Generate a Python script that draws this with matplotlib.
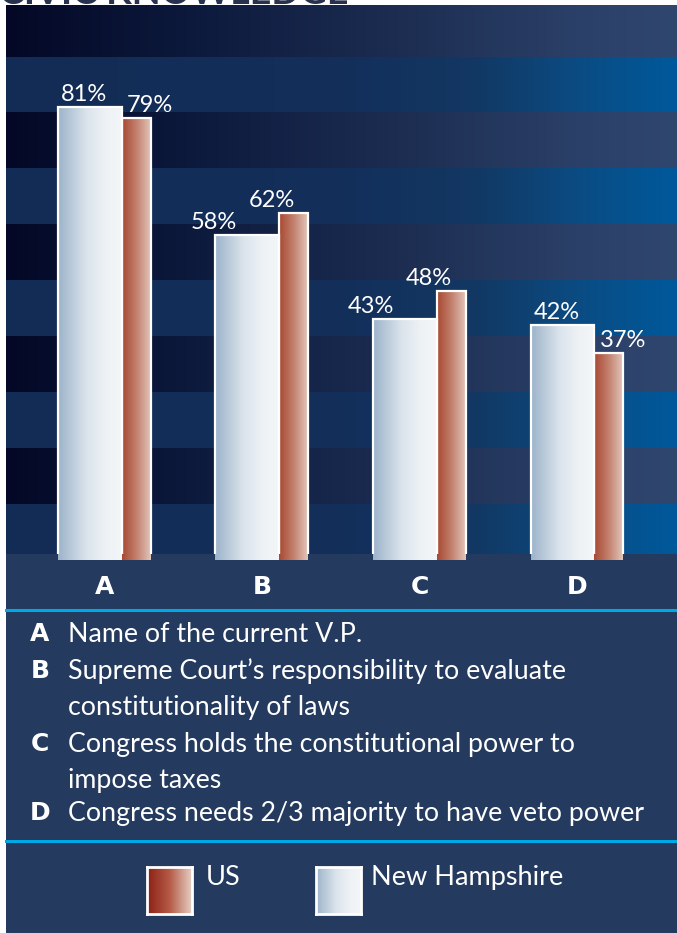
import numpy as np
import matplotlib
matplotlib.use("Agg")
import matplotlib.pyplot as plt
from matplotlib.colors import to_rgb
from matplotlib.patches import Rectangle
from matplotlib.lines import Line2D

# ---------------- data ----------------
categories = ["A", "B", "C", "D"]
nh_values = [81, 58, 43, 42]
us_values = [79, 62, 48, 37]
descriptions = [
    ("A", ["Name of the current V.P."]),
    ("B", ["Supreme Court\u2019s responsibility to evaluate", "constitutionality of laws"]),
    ("C", ["Congress holds the constitutional power to", "impose taxes"]),
    ("D", ["Congress needs 2/3 majority to have veto power"]),
]
legend_labels = ["US", "New Hampshire"]
title_text = "CIVIC KNOWLEDGE"

# ---------------- styling ----------------
FONT = ["Lato", "DejaVu Sans"]
BOLDFONT = ["DejaVu Sans"]
plt.rcParams["font.family"] = FONT
W, H = 677, 933
PANEL = "#243a5e"
CYAN = "#00a9e6"

def fx(px):
    return px / W

def fy(py):
    return 1 - py / H

def gradient(stops, n=400):
    pos = np.array([s[0] for s in stops])
    cols = np.array([to_rgb(s[1]) for s in stops])
    t = np.linspace(0, 1, n)
    out = np.stack([np.interp(t, pos, cols[:, k]) for k in range(3)], axis=-1)
    return out[None, :, :]

nh_grad = gradient([(0, "#9cb3ca"), (0.45, "#dbe4ec"), (0.75, "#eef2f5"), (1, "#f3f6f8")])
us_grad = gradient([(0, "#a84833"), (0.5, "#c2806d"), (1, "#e3c6bb")])
us_leg_grad = gradient([(0, "#8c2016"), (0.5, "#b55a46"), (1, "#e6cfc5")])
dark_row = gradient([(0, "#040826"), (0.3, "#0d1b3e"), (0.6, "#1d2e52"), (0.85, "#2b4068"), (1, "#2f466f")], 671)[0]
blue_row = gradient([(0, "#122c55"), (0.5, "#122f5a"), (0.7, "#123863"), (0.85, "#0b4b82"), (1, "#00599b")], 671)[0]

fig = plt.figure(figsize=(W / 100, H / 100), dpi=100)
fig.patch.set_facecolor("white")

# title (cut off at top, as in the original)
fig.text(fx(-1), fy(4), title_text, fontsize=27, fontweight="bold", color="#28324f",
         ha="left", va="baseline")

# bottom panel
fig.add_artist(Rectangle((fx(6), 0), 1 - fx(6), fy(554), transform=fig.transFigure,
                         facecolor=PANEL, edgecolor="none", zorder=0))

# ---------------- chart axes ----------------
ax = fig.add_axes([fx(6), fy(554), fx(671), 549 / H])
XL = (-0.625, 3.635)
YL = (1.0, 99.2)

stripes = np.stack([blue_row if i % 2 == 0 else dark_row for i in range(10)], axis=0)
ax.imshow(stripes, extent=(XL[0], XL[1], 0, 100), origin="lower", aspect="auto",
          interpolation="nearest", zorder=0)

x = np.arange(len(categories))
nh_off, nh_w = -0.092, 0.406
us_off, us_w = 0.203, 0.184

nh_bars = ax.bar(x + nh_off, nh_values, nh_w, facecolor="none", edgecolor="white",
                 linewidth=1.6, zorder=3)
us_bars = ax.bar(x + us_off, us_values, us_w, facecolor="none", edgecolor="white",
                 linewidth=1.6, zorder=3)

for bars, g in ((nh_bars, nh_grad), (us_bars, us_grad)):
    for b in bars:
        x0 = b.get_x()
        im = ax.imshow(g, extent=(x0, x0 + b.get_width(), 0, b.get_height()),
                       aspect="auto", interpolation="bilinear", zorder=2)
        im.set_clip_path(b)

PT = 0.72  # points per pixel at 100 dpi
lab_kw = dict(textcoords="offset points", color="white", fontsize=17, va="bottom", zorder=5)
for i in range(len(categories)):
    nb, ub = nh_bars[i], us_bars[i]
    nv, uv = nh_values[i], us_values[i]
    # New Hampshire label
    if nv >= uv:
        ax.annotate(f"{nv}%", (nb.get_x(), nv), xytext=(3 * PT, 2 * PT), ha="left", **lab_kw)
    else:
        ax.annotate(f"{nv}%", (nb.get_x(), nv), xytext=(-2 * PT, 2 * PT), ha="center", **lab_kw)
    # US label
    if uv > nv:
        ax.annotate(f"{uv}%", (ub.get_x(), uv), xytext=(-8 * PT, 2 * PT), ha="center", **lab_kw)
    else:
        ax.annotate(f"{uv}%", (ub.get_x(), uv), xytext=(5 * PT, 2 * PT), ha="left", **lab_kw)

ax.set_xlim(*XL)
ax.set_ylim(*YL)
ax.set_xticks(x)
ax.set_xticklabels(categories, fontsize=18, fontweight="bold", color="white",
                   family=BOLDFONT)
ax.tick_params(axis="x", length=0, pad=15)
ax.set_yticks([])
for s in ax.spines.values():
    s.set_visible(False)

# cyan separator lines
for yy in (610, 841):
    fig.add_artist(Line2D([fx(6), 1], [fy(yy), fy(yy)], transform=fig.transFigure,
                          color=CYAN, linewidth=2.2, zorder=2))

# ---------------- descriptions ----------------
baselines = [642, 679, 715, 752, 788, 821]
k = 0
for letter, lines in descriptions:
    fig.text(fx(40), fy(baselines[k] - 1), letter, fontsize=18, fontweight="bold",
             color="white", ha="center", va="baseline", family=BOLDFONT)
    for ln in lines:
        fig.text(fx(68), fy(baselines[k]), ln, fontsize=19.3, color="white",
                 ha="left", va="baseline")
        k += 1

# ---------------- legend ----------------
leg_items = [(legend_labels[0], us_leg_grad, 147, 59), (legend_labels[1], nh_grad, 316, 55)]
for label, g, px, gap in leg_items:
    lax = fig.add_axes([fx(px), fy(914), fx(45), 47 / H])
    lax.imshow(g, extent=(0, 1, 0, 1), aspect="auto", interpolation="bilinear")
    lax.set_xlim(0, 1)
    lax.set_ylim(0, 1)
    lax.set_xticks([])
    lax.set_yticks([])
    for s in lax.spines.values():
        s.set_color("white")
        s.set_linewidth(2)
    fig.text(fx(px + gap), fy(865), label, fontsize=19.5, color="white", ha="left", va="top")

fig.savefig("out.png", dpi=100, facecolor=fig.get_facecolor())
